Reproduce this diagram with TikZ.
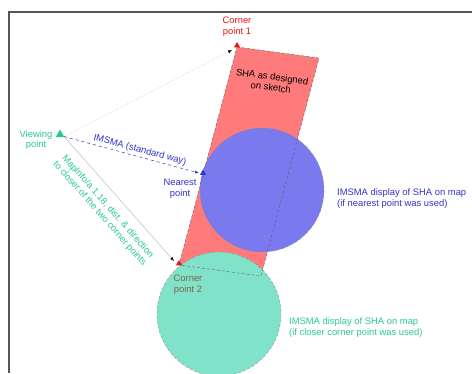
\documentclass[tikz,border=0pt]{standalone}
\usepackage{fontspec}
\setmainfont{Liberation Sans}
\usetikzlibrary{shapes.geometric,arrows.meta}
\definecolor{shared}{RGB}{255,122,122}
\definecolor{bluefill}{RGB}{122,122,238}
\definecolor{greenfill}{RGB}{128,226,200}
\definecolor{txtgreen}{RGB}{40,200,150}
\definecolor{txtblue}{RGB}{50,50,200}
\definecolor{txtred}{RGB}{235,20,20}
\definecolor{txtbrown}{RGB}{130,100,70}
\definecolor{framegray}{RGB}{85,85,85}
\tikzset{
  lbl/.style={font=\fontsize{9.4}{10.8}\selectfont, inner sep=0pt, align=center},
  tri/.style={regular polygon, regular polygon sides=3, inner sep=0pt, minimum size=#1},
  tri/.default=8pt,
  outl/.style={draw=black!65, densely dashed, line width=0.35pt},
  ray/.style={draw=black!30, line width=0.4pt, -{Latex[length=4pt,width=3pt]}},
}
\begin{document}
\begin{tikzpicture}[x=1pt,y=-1pt]
\useasboundingbox (0,0) rectangle (472,373);
% frame
\draw[framegray, line width=2pt] (9,373) -- (9,12) -- (472,12);
% designed SHA
\fill[shared] (237,47) -- (319,58) -- (261,276) -- (179,265) -- cycle;
% circles
\fill[bluefill] (262,190) circle[radius=62];
\draw[outl, draw=black!45] (262,190) circle[radius=62];
\fill[greenfill] (219,314) circle[radius=62];
\draw[outl, draw=black!45] (219,314) circle[radius=62];
% rectangle outline on top
\draw[outl] (237,47) -- (319,58) -- (261,276) -- (179,265) -- cycle;
\node[lbl, rotate=-7.6] (sha) at (271.5,82) {SHA as designed\\on sketch};
% points
\node[tri=10pt, fill=txtgreen] (vp) at (60,134.5) {};
\node[tri=7pt, fill=txtred] (c1) at (237,45.5) {};
\node[tri=7pt, fill=txtblue] (np) at (203,173) {};
\node[tri=7pt, fill=txtred] (c2) at (179,263.5) {};
\coordinate (vps) at (64,136.5);
\coordinate (c1e) at (232,50);
\coordinate (npe) at (199,173);
\coordinate (c2e) at (174,261);
% rays
\draw[ray, densely dotted, {-{Latex[length=4pt,width=3pt,black]}}] (vps) -- (c1e);
\draw[ray, {-{Latex[length=4pt,width=3pt,black]}}] (vps) -- node[lbl, sloped, below=9pt, pos=0.49, text=txtgreen] (gtxt) {MapInfo/a 1.18, dist. \& direction\\to closer of the two corner points} (c2e);
\draw[txtblue, dashed, line width=0.5pt, -{Latex[length=4pt,width=3pt]}] (vps) -- node[lbl, sloped, above=2pt, pos=0.55, text=txtblue] (btxt) {IMSMA (standard way)} (npe);
% labels
\node[lbl, text=txtgreen] (vpl) at (36,140) {Viewing\\point};
\node[lbl, text=txtred] (c1l) at (237,26.5) {Corner\\point 1};
\node[lbl, text=txtblue] (npl) at (180,188.5) {Nearest\\point};
\node[lbl, text=txtbrown] (c2l) at (188,285) {Corner\\point 2};
\node[lbl, text=txtblue, anchor=west, align=left] (bl) at (337,198.5) {IMSMA display of SHA on map\\(if nearest point was used)};
\node[lbl, text=txtgreen, anchor=west, align=left] (gl) at (289,327.5) {IMSMA display of SHA on map\\(if closer corner point was used)};
\end{tikzpicture}
\end{document}
